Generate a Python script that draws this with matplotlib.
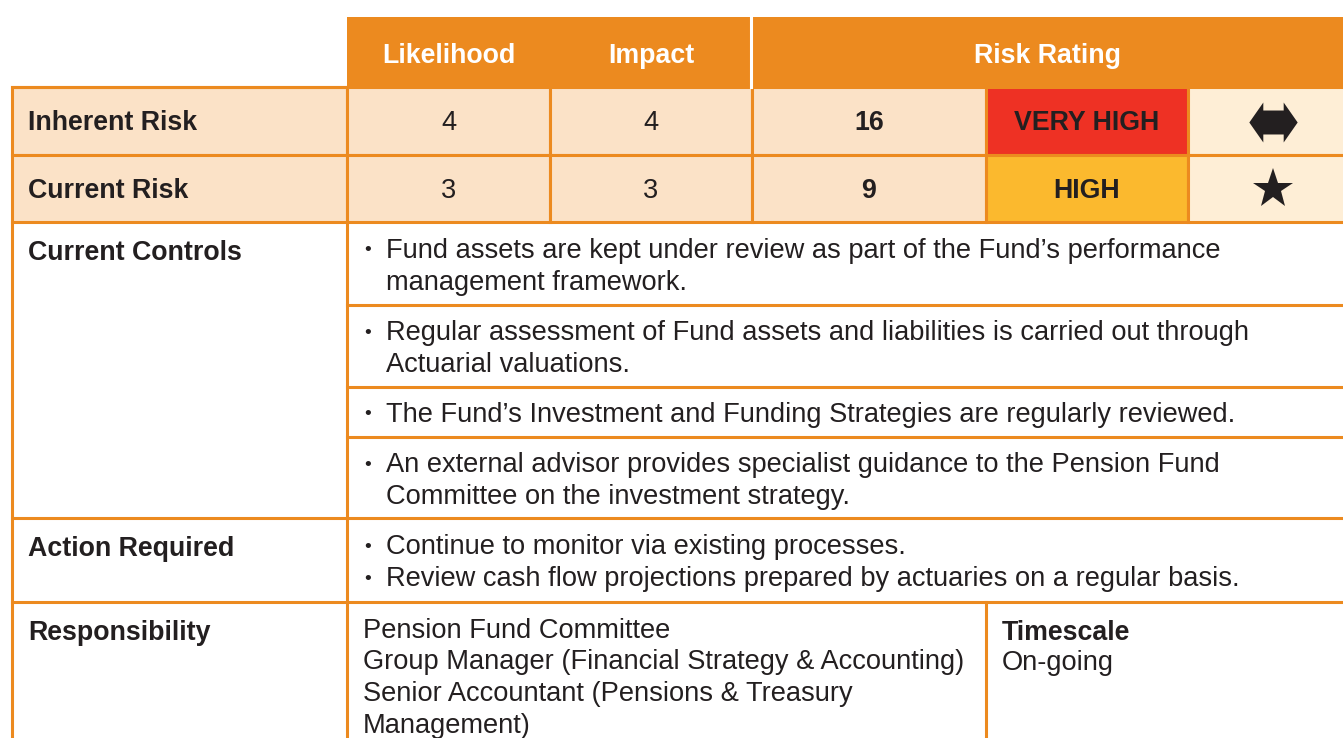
import matplotlib.pyplot as plt
from matplotlib.patches import Rectangle
from matplotlib.path import Path

# table content
headers = ["Likelihood", "Impact", "Risk Rating"]
risk_rows = ["Inherent Risk", "Current Risk"]
likelihood = [4, 3]
impact = [4, 3]
scores = [16, 9]
ratings = ["VERY HIGH", "HIGH"]
trends = ["no change", "new"]

controls = [
    ["Fund assets are kept under review as part of the Fund\u2019s performance",
     "management framework."],
    ["Regular assessment of Fund assets and liabilities is carried out through",
     "Actuarial valuations."],
    ["The Fund\u2019s Investment and Funding Strategies are regularly reviewed."],
    ["An external advisor provides specialist guidance to the Pension Fund",
     "Committee on the investment strategy."],
]
actions = [
    "Continue to monitor via existing processes.",
    "Review cash flow projections prepared by actuaries on a regular basis.",
]
responsibility = [
    "Pension Fund Committee",
    "Group Manager (Financial Strategy & Accounting)",
    "Senior Accountant (Pensions & Treasury",
    "Management)",
]
timescale = "On-going"

# styles
ORANGE = "#EC8A1F"
PEACH = "#FBE2C7"
CREAM = "#FEEED6"
RATING_COLOURS = {"VERY HIGH": "#EE3124", "HIGH": "#FBB92E"}
TXT = "#231F20"
FONT = ["Liberation Sans", "DejaVu Sans"]
FS_BOLD = 19.3
FS_BODY = 19.65

# double-headed arrow glyph as a marker path
arrow_verts = [(-24.2, 0), (-10.2, 20), (-10.2, 12), (10.2, 12), (10.2, 20),
               (24.2, 0), (10.2, -20), (10.2, -12), (-10.2, -12), (-10.2, -20),
               (-24.2, 0)]
ARROW = Path(arrow_verts, closed=True)
TREND_MARKERS = {"no change": (ARROW, 34.8), "new": ("*", 30.2)}

W, H = 1343, 738
fig = plt.figure(figsize=(W / 100, H / 100), dpi=100)
ax = fig.add_axes([0, 0, 1, 1])
ax.set_xlim(0, W)
ax.set_ylim(H, 0)
ax.axis("off")

# column edges and row edges (pixel layout)
cols = [12, 347, 550, 752, 986, 1188, 1400]
head_top, head_bot = 17, 87
row_edges = [87, 155, 222]
ctrl_edges = [222, 305, 387, 437, 518]
act_edges = [518, 602]
resp_top = 602
LW = 2.2
DY = 2.5


def txt(x, y, s, **kw):
    kw.setdefault("color", TXT)
    kw.setdefault("fontsize", FS_BODY)
    kw.setdefault("va", "center")
    kw.setdefault("family", FONT)
    ax.text(x, y + DY, s, **kw)


# header band
ax.add_patch(Rectangle((cols[1], head_top), W - cols[1], head_bot - head_top,
                       facecolor=ORANGE, edgecolor="none"))
ax.plot([751, 751], [head_top, head_bot], color="white", lw=2.2)
head_x = [(cols[1] + cols[2]) / 2, (cols[2] + cols[3]) / 2, (cols[3] + W) / 2]
for x, h in zip(head_x, headers):
    txt(x, (head_top + head_bot) / 2 + 1.5, h, ha="center", color="white",
        weight="bold", fontsize=FS_BOLD)

# risk rows
for i, name in enumerate(risk_rows):
    y0, y1 = row_edges[i], row_edges[i + 1]
    yc = (y0 + y1) / 2
    fills = [PEACH, PEACH, PEACH, PEACH, RATING_COLOURS[ratings[i]], CREAM]
    for j, fc in enumerate(fills):
        ax.add_patch(Rectangle((cols[j], y0), cols[j + 1] - cols[j], y1 - y0,
                               facecolor=fc, edgecolor=ORANGE, lw=LW))
    txt(28, yc, name, weight="bold", fontsize=FS_BOLD)
    txt((cols[1] + cols[2]) / 2, yc, str(likelihood[i]), ha="center")
    txt((cols[2] + cols[3]) / 2, yc, str(impact[i]), ha="center")
    txt((cols[3] + cols[4]) / 2, yc, str(scores[i]), ha="center",
        weight="bold", fontsize=FS_BOLD)
    txt((cols[4] + cols[5]) / 2, yc, ratings[i], ha="center",
        weight="bold", fontsize=FS_BOLD)
    mk, ms = TREND_MARKERS[trends[i]]
    ax.plot([1272.5], [yc + 0.5], marker=mk, markersize=ms, color=TXT,
            markeredgewidth=0, linestyle="none")

# current controls
ax.plot([cols[0], cols[0]], [row_edges[-1], H + 5], color=ORANGE, lw=LW)
ax.plot([cols[1], cols[1]], [row_edges[-1], H + 5], color=ORANGE, lw=LW)
for y in ctrl_edges[1:-1]:
    ax.plot([cols[1], W + 5], [y, y], color=ORANGE, lw=LW)
txt(28, 250, "Current Controls", weight="bold", fontsize=FS_BOLD)
for k, lines in enumerate(controls):
    y0 = ctrl_edges[k]
    if len(lines) == 1:
        ys = [(ctrl_edges[k] + ctrl_edges[k + 1]) / 2]
    else:
        ys = [y0 + 26 + 32 * n for n in range(len(lines))]
    txt(368, ys[0], "\u2022", ha="center", fontsize=14)
    for y, line in zip(ys, lines):
        txt(386, y, line)

# action required
for y in act_edges:
    ax.plot([cols[0], W + 5], [y, y], color=ORANGE, lw=LW)
txt(28, 546, "Action Required", weight="bold", fontsize=FS_BOLD)
for n, line in enumerate(actions):
    y = act_edges[0] + 27 + 32 * n
    txt(368, y, "\u2022", ha="center", fontsize=14)
    txt(386, y, line)

# responsibility
ax.plot([cols[4], cols[4]], [resp_top, H + 5], color=ORANGE, lw=LW)
txt(28, 630, "Responsibility", weight="bold", fontsize=FS_BOLD)
for n, line in enumerate(responsibility):
    txt(363, resp_top + 26 + 31.7 * n, line)
txt(1002, 630, "Timescale", weight="bold", fontsize=FS_BOLD)
txt(1002, 661, timescale)

# top border of row labels
ax.plot([cols[0], cols[1]], [head_bot, head_bot], color=ORANGE, lw=LW)

fig.savefig("out.png", dpi=100)
